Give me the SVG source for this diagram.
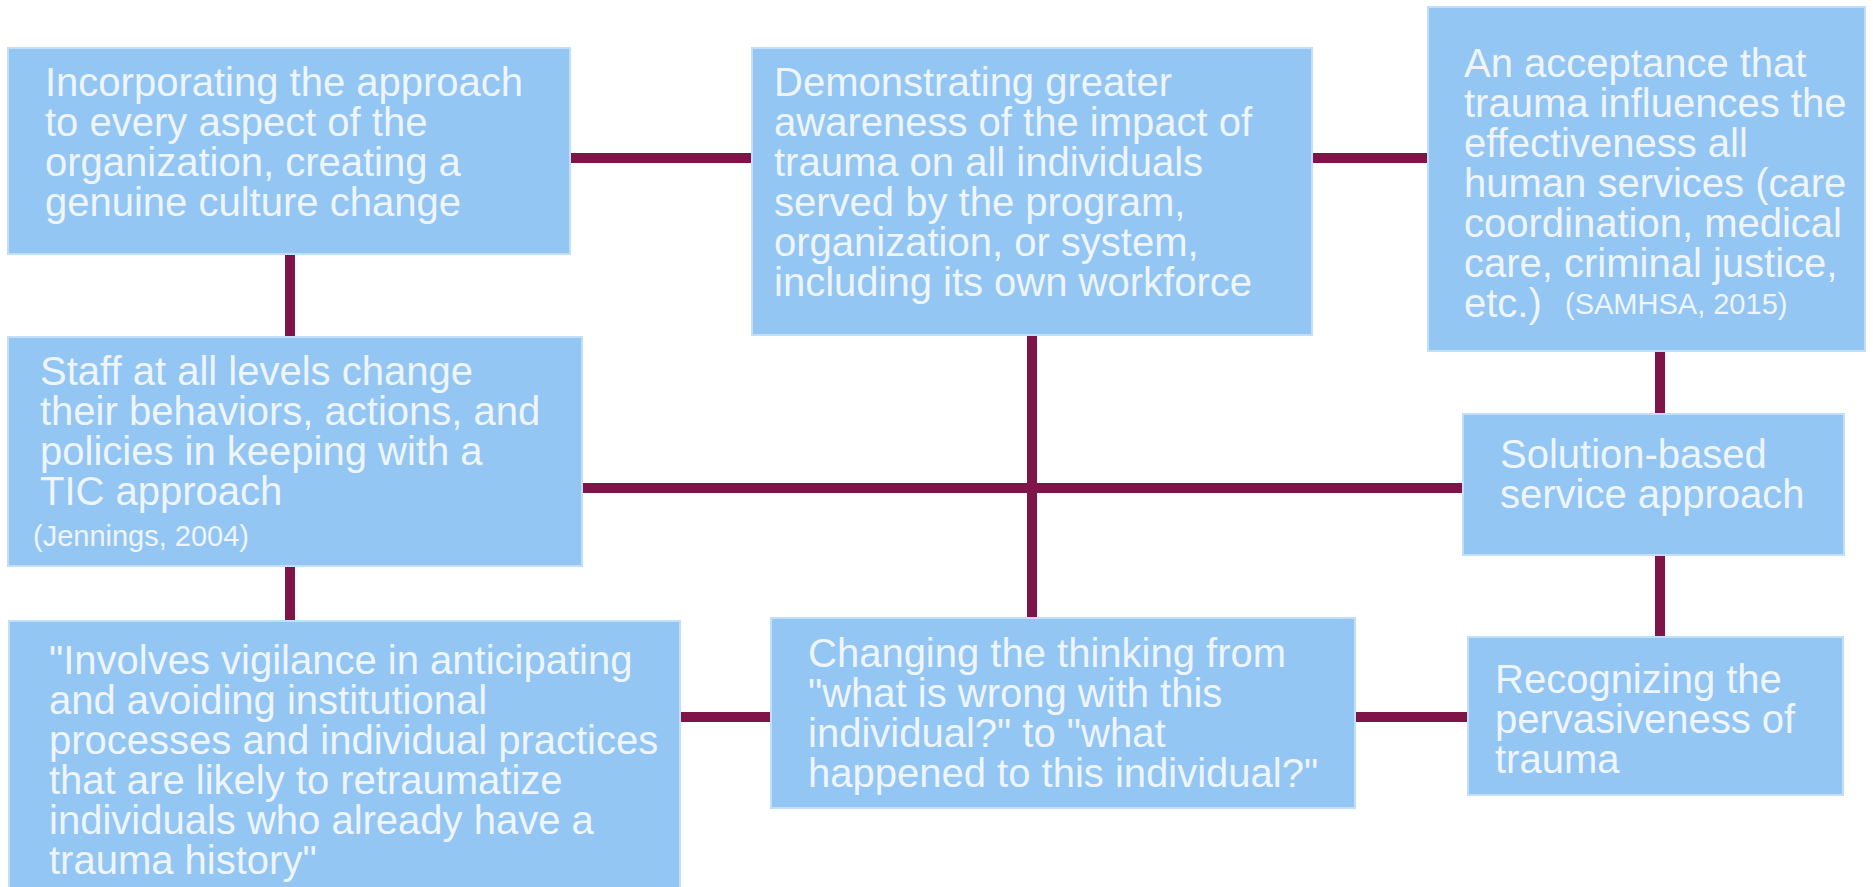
<svg xmlns="http://www.w3.org/2000/svg" width="1873" height="887" viewBox="0 0 1873 887">
<style>
.box{fill:#94C6F4;stroke:#C2DFFA;stroke-width:2}
.t{font-family:"Liberation Sans",Arial,sans-serif;font-size:40px;fill:#EEF5FD}
.s{font-size:29px}
.c{stroke:#7F1448;stroke-width:10;fill:none}
</style>
<rect width="1873" height="887" fill="#FFFFFF"/>
<g id="connectors" class="c">
<line x1="570" y1="158" x2="752" y2="158"/>
<line x1="1312" y1="158" x2="1428" y2="158"/>
<line x1="290" y1="254" x2="290" y2="337"/>
<line x1="290" y1="566" x2="290" y2="621"/>
<line x1="582" y1="488" x2="1463" y2="488"/>
<line x1="1032" y1="335" x2="1032" y2="618"/>
<line x1="1660" y1="351" x2="1660" y2="414"/>
<line x1="1660" y1="555" x2="1660" y2="637"/>
<line x1="680" y1="717" x2="771" y2="717"/>
<line x1="1355" y1="717" x2="1468" y2="717"/>
</g>
<g id="node1">
<rect class="box" x="8" y="48" width="562" height="206"/>
<text class="t"><tspan x="45" y="96">Incorporating the approach</tspan><tspan x="45" y="136">to every aspect of the</tspan><tspan x="45" y="176">organization, creating a</tspan><tspan x="45" y="216">genuine culture change</tspan></text>
</g>
<g id="node2">
<rect class="box" x="752" y="48" width="560" height="287"/>
<text class="t"><tspan x="774" y="96">Demonstrating greater</tspan><tspan x="774" y="136">awareness of the impact of</tspan><tspan x="774" y="176">trauma on all individuals</tspan><tspan x="774" y="216">served by the program,</tspan><tspan x="774" y="256">organization, or system,</tspan><tspan x="774" y="296">including its own workforce</tspan></text>
</g>
<g id="node3">
<rect class="box" x="1428" y="7" width="437" height="344"/>
<text class="t"><tspan x="1464" y="77">An acceptance that</tspan><tspan x="1464" y="117">trauma influences the</tspan><tspan x="1464" y="157">effectiveness all</tspan><tspan x="1464" y="197">human services (care</tspan><tspan x="1464" y="237">coordination, medical</tspan><tspan x="1464" y="277">care, criminal justice,</tspan><tspan x="1464" y="317">etc.)</tspan><tspan x="1565" y="314" class="s">(SAMHSA, 2015)</tspan></text>
</g>
<g id="node4">
<rect class="box" x="8" y="337" width="574" height="229"/>
<text class="t"><tspan x="40" y="385">Staff at all levels change</tspan><tspan x="40" y="425">their behaviors, actions, and</tspan><tspan x="40" y="465">policies in keeping with a</tspan><tspan x="40" y="505">TIC approach</tspan><tspan x="33" y="546" class="s">(Jennings, 2004)</tspan></text>
</g>
<g id="node5">
<rect class="box" x="1463" y="414" width="381" height="141"/>
<text class="t"><tspan x="1500" y="468">Solution-based</tspan><tspan x="1500" y="508">service approach</tspan></text>
</g>
<g id="node6">
<rect class="box" x="9" y="621" width="671" height="280"/>
<text class="t"><tspan x="49" y="674">"Involves vigilance in anticipating</tspan><tspan x="49" y="714">and avoiding institutional</tspan><tspan x="49" y="754">processes and individual practices</tspan><tspan x="49" y="794">that are likely to retraumatize</tspan><tspan x="49" y="834">individuals who already have a</tspan><tspan x="49" y="874">trauma history"</tspan></text>
</g>
<g id="node7">
<rect class="box" x="771" y="618" width="584" height="190"/>
<text class="t"><tspan x="808" y="667">Changing the thinking from</tspan><tspan x="808" y="707">"what is wrong with this</tspan><tspan x="808" y="747">individual?" to "what</tspan><tspan x="808" y="787">happened to this individual?"</tspan></text>
</g>
<g id="node8">
<rect class="box" x="1468" y="637" width="375" height="158"/>
<text class="t"><tspan x="1495" y="693">Recognizing the</tspan><tspan x="1495" y="733">pervasiveness of</tspan><tspan x="1495" y="773">trauma</tspan></text>
</g>
</svg>
